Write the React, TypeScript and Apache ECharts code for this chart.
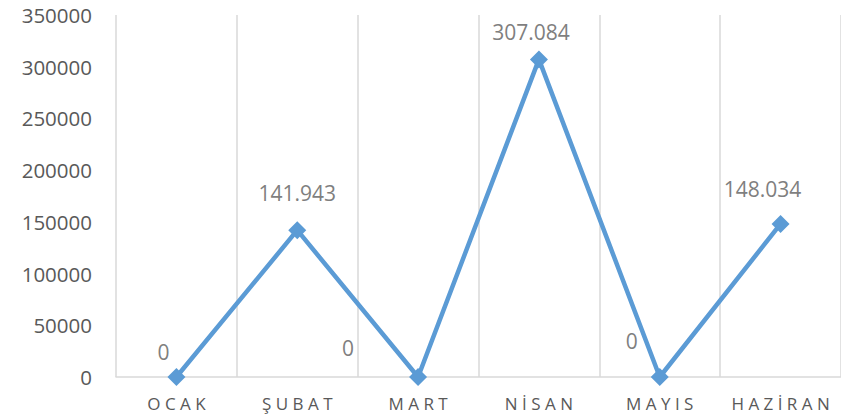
import React, { useEffect, useRef } from "react";
import * as echarts from "echarts";

const categories = ["OCAK", "ŞUBAT", "MART", "NİSAN", "MAYIS", "HAZİRAN"];
const values = [0, 141943, 0, 307084, 0, 148034];
const yTicks = { min: 0, max: 350000, interval: 50000 };
// label placement relative to each point (px)
const labelOffsets: [number, number][] = [
  [-13, -25],
  [0, -37],
  [-70, -29],
  [-8, -27],
  [-28, -36],
  [-18, -35],
];

const fmt = (v: number) => String(v).replace(/\B(?=(\d{3})+(?!\d))/g, ".");
const spaced = (s: string) => s.split("").join(" ");

export default function App() {
  const ref = useRef<HTMLDivElement>(null);
  useEffect(() => {
    if (!ref.current) return;
    const chart = echarts.init(ref.current, null, { renderer: "svg" });
    chart.setOption({
      animation: false,
      textStyle: { fontFamily: "Open Sans" },
      grid: { left: 116, right: -3, top: 15, bottom: 42 },
      xAxis: {
        type: "category",
        data: categories,
        boundaryGap: true,
        axisLine: { show: true, lineStyle: { color: "#d9d9d9", width: 1.5 } },
        axisTick: { show: false, interval: 0 },
        splitLine: { show: true, interval: 0, lineStyle: { color: "#d9d9d9", width: 1.5 } },
        axisLabel: {
          interval: 0,
          color: "#595959",
          fontSize: 17,
          margin: 18,
          fontFamily: "Open Sans",
          formatter: (v: string) => spaced(v),
        },
      },
      yAxis: {
        type: "value",
        min: yTicks.min,
        max: yTicks.max,
        interval: yTicks.interval,
        axisLine: { show: false },
        axisTick: { show: false },
        splitLine: { show: false },
        axisLabel: {
          color: "#595959",
          fontSize: 20.5,
          margin: 24,
          fontFamily: "Open Sans",
          formatter: (v: number) => String(v),
        },
      },
      series: [
        {
          type: "line",
          data: values.map((v, i) => ({
            value: v,
            label: { offset: labelOffsets[i] },
          })),
          symbol: "diamond",
          symbolSize: 18,
          itemStyle: { color: "#5b9bd5" },
          lineStyle: { color: "#5b9bd5", width: 4.5 },
          label: {
            show: true,
            position: "inside",
            color: "#7f7f7f",
            fontSize: 21,
            fontFamily: "Open Sans",
            formatter: (p: any) => fmt(p.value),
          },
        },
      ],
    });
    return () => chart.dispose();
  }, []);
  return (
    <div
      ref={ref}
      style={{ position: "absolute", left: 0, top: 0, width: 841, height: 419 }}
    />
  );
}
